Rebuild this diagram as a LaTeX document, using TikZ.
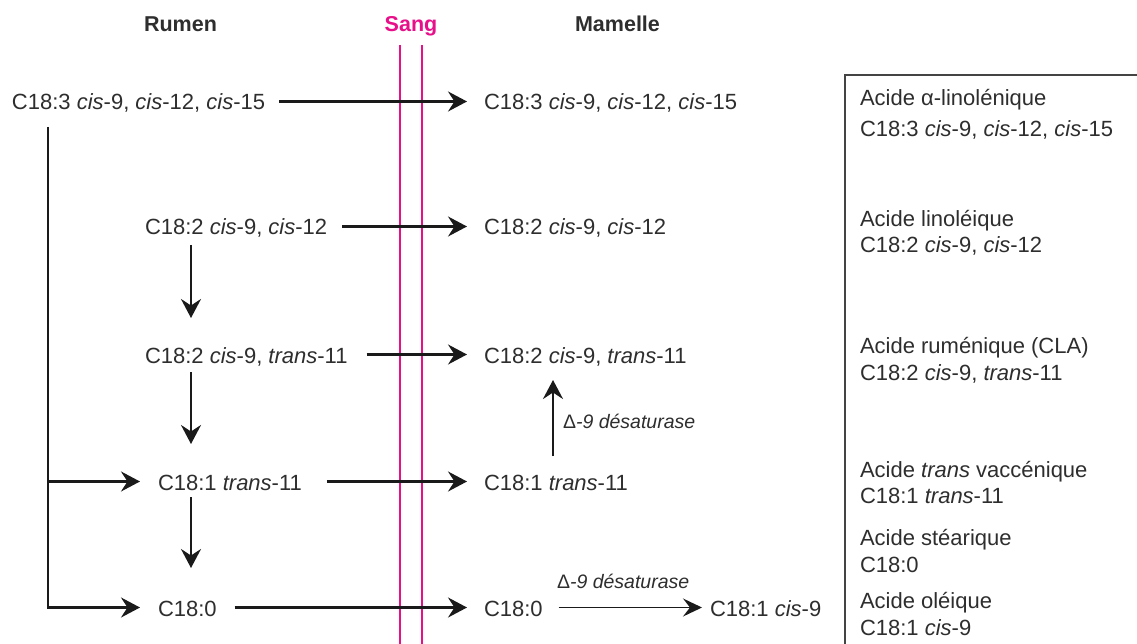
\documentclass[tikz,border=0pt]{standalone}
\usepackage{fontspec}
\setmainfont{Liberation Sans}
\usetikzlibrary{arrows.meta}
\definecolor{txt}{HTML}{2E2E2E}
\definecolor{arrcol}{HTML}{1A1A1A}
\definecolor{pinkline}{HTML}{E8108A}
\definecolor{boxcol}{HTML}{444444}
\begin{document}
\begin{tikzpicture}[x=1pt,y=-1pt,
  every node/.style={inner sep=0pt, outer sep=0pt, text=txt},
  chem/.style={anchor=base west, font=\fontsize{22}{25}\selectfont, text height=17pt, text depth=0pt},
  ent/.style={anchor=base west, font=\fontsize{22}{25}\selectfont},
  hdr/.style={anchor=base, font=\fontsize{21.5}{24}\selectfont\bfseries},
  lbl/.style={anchor=base west, font=\fontsize{19.5}{22}\selectfont\itshape},
  arr/.style={draw=arrcol, line width=2.3pt, -{Stealth[length=19pt,width=20pt,inset=6.5pt]}},
  arrthin/.style={draw=arrcol, line width=1.5pt, -{Stealth[length=19pt,width=18pt,inset=7pt]}},
  pink/.style={draw=pinkline, line width=2pt}]
\useasboundingbox (0,0) rectangle (1137,644);
\fill[white] (0,0) rectangle (1137,644);

% headers
\node[hdr] (hR) at (180.5,32) {Rumen};
\node[hdr, text=pinkline] (hS) at (411,32) {Sang};
\node[hdr] (hM) at (617.5,32) {Mamelle};

% blood lines
\coordinate (p1t) at (400,45); \coordinate (p1b) at (400,644);
\coordinate (p2t) at (421.5,45); \coordinate (p2b) at (421.5,644);
\draw[pink] (p1t) -- (p1b);
\draw[pink] (p2t) -- (p2b);

% rumen column
\node[chem] (A) at (12,110) {C18:3 \textit{cis}-9, \textit{cis}-12, \textit{cis}-15};
\node[chem] (B) at (145,235) {C18:2 \textit{cis}-9, \textit{cis}-12};
\node[chem] (C) at (145,363) {C18:2 \textit{cis}-9, \textit{trans}-11};
\node[chem] (D) at (158,490) {C18:1 \textit{trans}-11};
\node[chem] (E) at (158,616) {C18:0};

% mamelle column
\node[chem] (A2) at (484,110) {C18:3 \textit{cis}-9, \textit{cis}-12, \textit{cis}-15};
\node[chem] (B2) at (484,235) {C18:2 \textit{cis}-9, \textit{cis}-12};
\node[chem] (C2) at (484,363) {C18:2 \textit{cis}-9, \textit{trans}-11};
\node[chem] (D2) at (484,490) {C18:1 \textit{trans}-11};
\node[chem] (E2) at (484,616) {C18:0};
\node[chem] (F) at (710,616) {C18:1 \textit{cis}-9};

% horizontal transfers
\draw[arr] ([xshift=14pt]A.east) -- ([xshift=-17pt]A2.west);
\draw[arr] ([xshift=15pt]B.east) -- ([xshift=-17pt]B2.west);
\draw[arr] ([xshift=19pt]C.east) -- ([xshift=-17pt]C2.west);
\draw[arr] ([xshift=25pt]D.east) -- ([xshift=-17pt]D2.west);
\draw[arr] ([xshift=18pt]E.east) -- ([xshift=-17pt]E2.west);

% vertical rumen arrows
\coordinate (vx) at (191,0);
\draw[arr, shorten <=10pt, shorten >=28pt] (B.south -| vx) -- (C.north -| vx);
\draw[arr, shorten <=9pt, shorten >=29pt] (C.south -| vx) -- (D.north -| vx);
\draw[arr, shorten <=7pt, shorten >=31pt] (D.south -| vx) -- (E.north -| vx);

% trunk from C18:3
\coordinate (trunk) at ([xshift=36pt,yshift=-17pt]A.south west);
\draw[arr, shorten >=18pt] (trunk) |- (E.west);
\draw[arr, shorten >=18pt] (trunk |- D.west) -- (D.west);

% desaturases
\coordinate (ux) at (553,0);
\draw[arr, shorten <=17pt, shorten >=17pt] (D2.north -| ux) -- (C2.south -| ux);
\node[lbl] (L1) at (563,428) {{\upshape Δ}-9 désaturase};
\draw[arrthin] ([xshift=16pt]E2.east) -- ([xshift=-8pt]F.west);
\node[lbl] (L2) at (557,588) {{\upshape Δ}-9 désaturase};

% legend box
\coordinate (bx1) at (845,644); \coordinate (bx2) at (845,75); \coordinate (bx3) at (1137,75);
\draw[draw=boxcol, line width=1.8pt] (bx1) -- (bx2) -- (bx3);
\node[ent] (r1a) at (860,106) {Acide α-linolénique};
\node[ent] (r1b) at (860,137) {C18:3 \textit{cis}-9, \textit{cis}-12, \textit{cis}-15};
\node[ent] (r2a) at (860,227) {Acide linoléique};
\node[ent] (r2b) at (860,253) {C18:2 \textit{cis}-9, \textit{cis}-12};
\node[ent] (r3a) at (860,353) {Acide ruménique (CLA)};
\node[ent] (r3b) at (860,380) {C18:2 \textit{cis}-9, \textit{trans}-11};
\node[ent] (r4a) at (860,477) {Acide \textit{trans} vaccénique};
\node[ent] (r4b) at (860,503) {C18:1 \textit{trans}-11};
\node[ent] (r5a) at (860,545) {Acide stéarique};
\node[ent] (r5b) at (860,572) {C18:0};
\node[ent] (r6a) at (860,608) {Acide oléique};
\node[ent] (r6b) at (860,635) {C18:1 \textit{cis}-9};
\end{tikzpicture}
\end{document}
